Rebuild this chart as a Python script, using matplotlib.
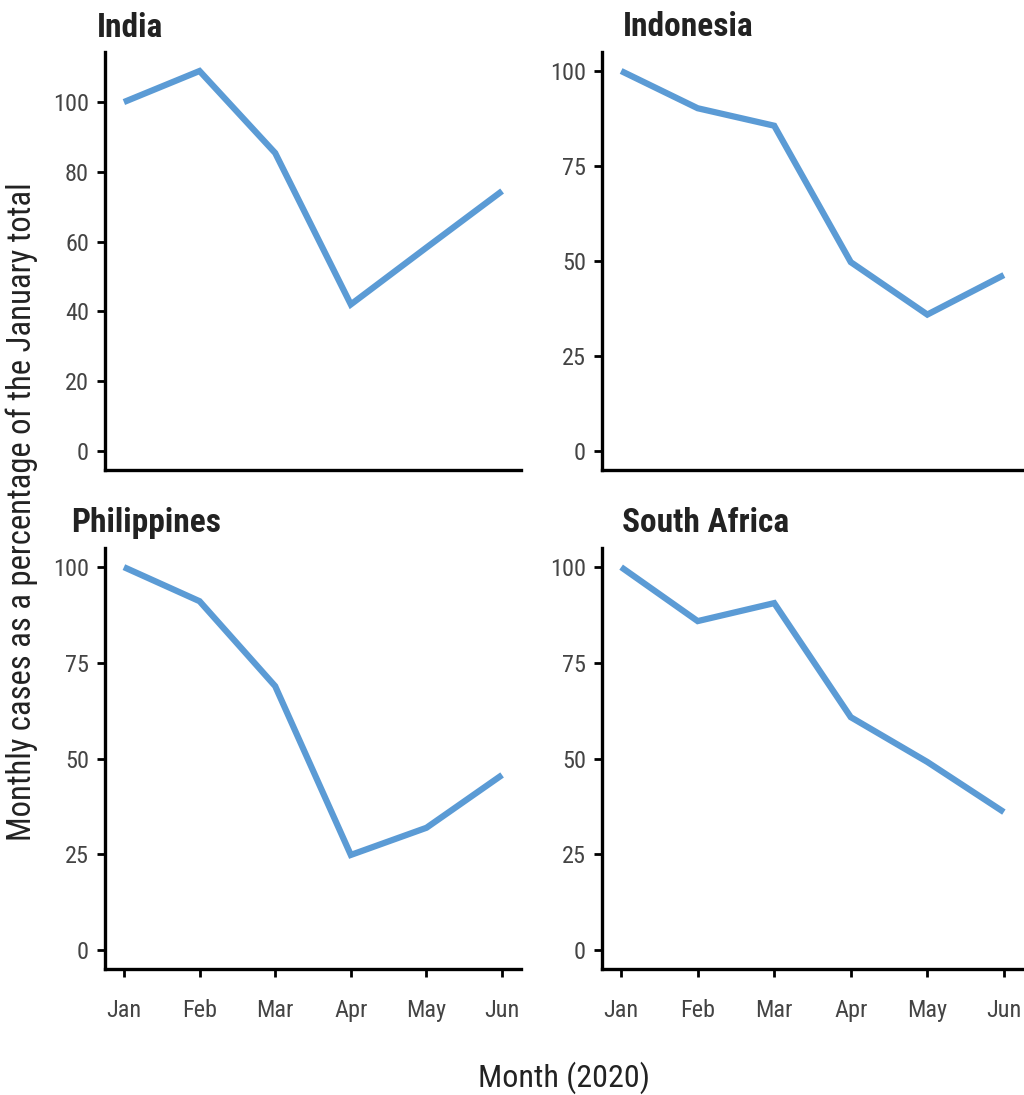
import matplotlib
matplotlib.use("Agg")
import matplotlib.pyplot as plt

plt.rcParams["font.family"] = ["Roboto Condensed", "Archivo Narrow", "DejaVu Sans"]

MONTHS = ["Jan", "Feb", "Mar", "Apr", "May", "Jun"]
COUNTRIES = ["India", "Indonesia", "Philippines", "South Africa"]

india = [100, 108.9, 85.4, 42.0, 58.3, 74.5]
indonesia = [100, 90.2, 85.6, 49.7, 35.9, 46.3]
philippines = [100, 91.1, 68.9, 24.8, 31.9, 45.7]
south_africa = [100, 85.9, 90.6, 60.8, 49.1, 36.0]

Y_TICKS = {
    "India": [0, 20, 40, 60, 80, 100],
    "Indonesia": [0, 25, 50, 75, 100],
    "Philippines": [0, 25, 50, 75, 100],
    "South Africa": [0, 25, 50, 75, 100],
}

LINE_COLOR = "#5b9bd5"
W, H = 1024, 1095

fig = plt.figure(figsize=(W / 100, H / 100), dpi=100)

# panel boxes in pixels: left, top, right, bottom
boxes = {
    "India": (105, 52, 521, 470),
    "Indonesia": (602, 52, 1023, 470),
    "Philippines": (105, 548, 521, 969),
    "South Africa": (602, 548, 1023, 969),
}
# title anchor (left x, baseline y) in pixels
title_pos = {
    "India": (97, 37),
    "Indonesia": (623, 36),
    "Philippines": (71, 532),
    "South Africa": (622, 532),
}
series = {
    "India": india,
    "Indonesia": indonesia,
    "Philippines": philippines,
    "South Africa": south_africa,
}

x = list(range(len(MONTHS)))
for i, name in enumerate(COUNTRIES):
    l, t, r, b = boxes[name]
    ax = fig.add_axes([l / W, 1 - b / H, (r - l) / W, (b - t) / H])
    values = series[name]
    ax.plot(x, values, color=LINE_COLOR, lw=4.5, solid_joinstyle="miter",
            solid_capstyle="butt")
    top = max(values + [100])
    pad = top * 0.05
    ax.set_ylim(-pad, top + pad)
    ax.set_xlim(-0.25, 5.25)
    ax.set_yticks(Y_TICKS[name])
    ax.spines["top"].set_visible(False)
    ax.spines["right"].set_visible(False)
    for side in ("left", "bottom"):
        ax.spines[side].set_linewidth(2.4)
        ax.spines[side].set_color("black")
        ax.spines[side].set_capstyle("projecting")
    ax.tick_params(axis="both", length=5.5, width=2, color="black",
                   labelsize=17.5, labelcolor="#444444")
    ax.tick_params(axis="y", pad=6)
    if i >= 2:
        ax.set_xticks(x)
        ax.set_xticklabels(MONTHS)
        ax.tick_params(axis="x", pad=16)
    else:
        ax.set_xticks([])
    tx, ty = title_pos[name]
    fig.text(tx / W, 1 - ty / H, name, fontsize=24, fontweight="bold",
             color="#222222", ha="left", va="baseline")

fig.text(22 / W, 1 - 512 / H, "Monthly cases as a percentage of the January total",
         rotation=90, ha="center", va="center", fontsize=23.5, color="#222222")
fig.text(564 / W, 1 - 1078 / H, "Month (2020)", ha="center", va="center",
         fontsize=23, color="#222222")

fig.savefig("out.png", dpi=100, facecolor="white")
